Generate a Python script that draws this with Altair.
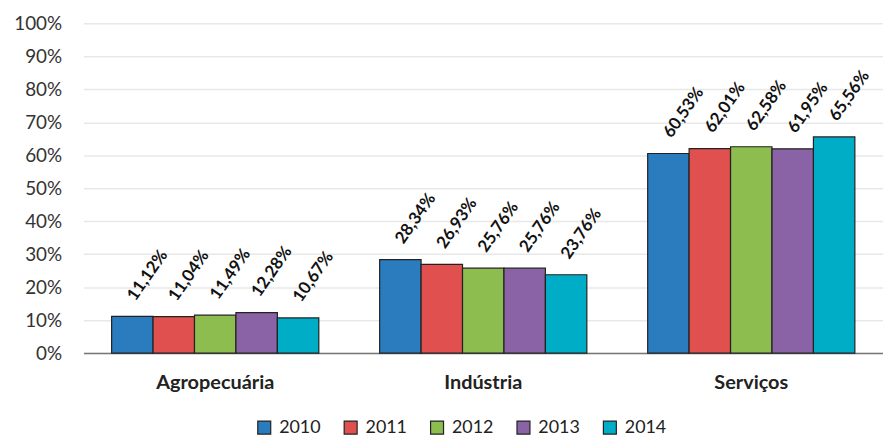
import altair as alt
import pandas as pd

sectors = ["Agropecuária", "Indústria", "Serviços"]
years = ["2010", "2011", "2012", "2013", "2014"]
v2010 = [11.12, 28.34, 60.53]
v2011 = [11.04, 26.93, 62.01]
v2012 = [11.49, 25.76, 62.58]
v2013 = [12.28, 25.76, 61.95]
v2014 = [10.67, 23.76, 65.56]
colors = ["#2b7bbf", "#e0504f", "#8cbd4e", "#8a62a6", "#00adc6"]
ytick_values = [0, 0.1, 0.2, 0.3, 0.4, 0.5, 0.6, 0.7, 0.8, 0.9, 1.0]

series = [v2010, v2011, v2012, v2013, v2014]
rows = []
for yi, y in enumerate(years):
    for si, s in enumerate(sectors):
        v = series[yi][si]
        rows.append({"setor": s, "ano": y, "valor": v / 100.0,
                     "rotulo": f"{v:.2f}".replace(".", ",") + "%"})
df = pd.DataFrame(rows)

FONT = "Lato"

yaxis = alt.Axis(format=".0%", values=ytick_values, tickCount=11,
                 ticks=False, domain=False, labelFontSize=19,
                 labelColor="#333", labelPadding=22, labelFont=FONT,
                 labelOverlap=False,
                 grid=True, gridColor="#e8e8e8", gridWidth=1.5)

base = alt.Chart(df).encode(
    x=alt.X("setor:N", sort=sectors, title=None,
            scale=alt.Scale(paddingInner=0.227, paddingOuter=0.105),
            axis=alt.Axis(labelAngle=0, labelFontWeight="bold", labelFontSize=20,
                          labelColor="#222", ticks=False, domainColor="#777",
                          domainWidth=1.5, labelPadding=20, labelFont=FONT)),
    xOffset=alt.XOffset("ano:N", sort=years),
    y=alt.Y("valor:Q", title=None, scale=alt.Scale(domain=[0, 1]), axis=yaxis),
)

bars = base.mark_bar(stroke="#222", strokeWidth=1.2).encode(
    color=alt.Color("ano:N", sort=years,
                    scale=alt.Scale(domain=years, range=colors),
                    legend=alt.Legend(title=None, orient="none", direction="horizontal",
                                      legendX=173, legendY=398,
                                      symbolType="square", symbolSize=170,
                                      symbolStrokeColor="#222", symbolStrokeWidth=1.2,
                                      labelFontSize=18, labelFont=FONT, labelColor="#222",
                                      labelOffset=6, columnPadding=21, symbolOffset=0)),
)

labels = base.mark_text(angle=305, align="left", baseline="middle", dx=14, dy=-11,
                        fontWeight="bold", fontSize=17, font=FONT, color="#111").encode(
    text="rotulo:N",
)

chart = (bars + labels).properties(
    width=805, height=332,
    padding={"left": 5, "top": 5, "right": 0, "bottom": 0},
).configure_view(stroke=None)

chart.save("out.html", embed_options={"renderer": "svg", "actions": False})
